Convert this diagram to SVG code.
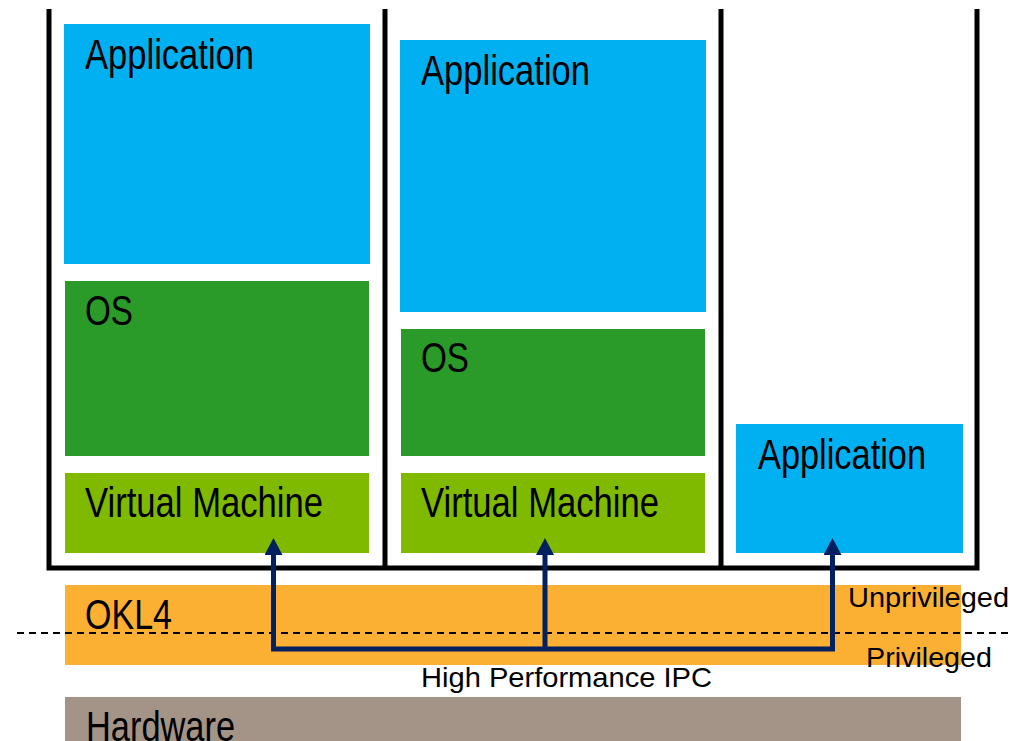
<svg xmlns="http://www.w3.org/2000/svg" width="1009" height="741" viewBox="0 0 1009 741">
<style>
.app{fill:#00B0F0}
.os{fill:#2A9A28}
.vm{fill:#7FBA00}
.lbl{font-family:"Liberation Sans Narrow","Liberation Sans",Arial,sans-serif;font-size:42px;fill:#000}
.sm{font-family:"Liberation Sans",Arial,sans-serif;font-size:28px;fill:#000}
.frame{fill:none;stroke:#000;stroke-width:5}
.ipc{fill:none;stroke:#002060;stroke-width:5}
</style>
<defs>
<marker id="ah" markerUnits="userSpaceOnUse" markerWidth="17" markerHeight="18" refX="0" refY="9" orient="auto" viewBox="0 0 17 18">
<path d="M0,0 L17,9 L0,18 Z" fill="#002060"/>
</marker>
</defs>
<rect width="1009" height="741" fill="#fff"/>
<g id="frame">
<path class="frame" d="M49,9 V568 H977 V9"/>
<path class="frame" d="M385,9 V568 M721,9 V568"/>
</g>
<g id="app1"><rect class="app" x="64" y="24" width="306" height="240"/><text class="lbl" x="85" y="69" textLength="169" lengthAdjust="spacingAndGlyphs">Application</text></g>
<g id="os1"><rect class="os" x="65" y="281" width="304" height="175"/><text class="lbl" x="85" y="325" textLength="48" lengthAdjust="spacingAndGlyphs">OS</text></g>
<g id="vm1"><rect class="vm" x="65" y="473" width="304" height="80"/><text class="lbl" x="85" y="517" textLength="238" lengthAdjust="spacingAndGlyphs">Virtual Machine</text></g>
<g id="app2"><rect class="app" x="400" y="40" width="306" height="272"/><text class="lbl" x="421" y="85" textLength="169" lengthAdjust="spacingAndGlyphs">Application</text></g>
<g id="os2"><rect class="os" x="401" y="329" width="304" height="127"/><text class="lbl" x="421" y="372" textLength="48" lengthAdjust="spacingAndGlyphs">OS</text></g>
<g id="vm2"><rect class="vm" x="401" y="473" width="304" height="80"/><text class="lbl" x="421" y="517" textLength="238" lengthAdjust="spacingAndGlyphs">Virtual Machine</text></g>
<g id="app3"><rect class="app" x="736" y="424" width="227" height="129"/><text class="lbl" x="758" y="469" textLength="168" lengthAdjust="spacingAndGlyphs">Application</text></g>
<g id="okl4"><rect x="65" y="585" width="896" height="80" fill="#FBB034"/><text class="lbl" x="85" y="629" textLength="87" lengthAdjust="spacingAndGlyphs">OKL4</text></g>
<g id="hardware"><rect x="65" y="697" width="896" height="50" fill="#A39487"/><text class="lbl" x="86" y="741" textLength="149" lengthAdjust="spacingAndGlyphs">Hardware</text></g>
<g id="privilege">
<line x1="17" y1="633" x2="1009" y2="633" stroke="#000" stroke-width="2" stroke-dasharray="7,5"/>
<text class="sm" x="848" y="607" textLength="161" lengthAdjust="spacingAndGlyphs">Unprivileged</text>
<text class="sm" x="866" y="667" textLength="126" lengthAdjust="spacingAndGlyphs">Privileged</text>
</g>
<g id="connectors">
<path class="ipc" d="M271,649 H835"/>
<path class="ipc" d="M273.5,651 V555" marker-end="url(#ah)"/>
<path class="ipc" d="M545,651 V555" marker-end="url(#ah)"/>
<path class="ipc" d="M832.5,651 V555" marker-end="url(#ah)"/>
<text class="sm" x="421" y="687" textLength="291" lengthAdjust="spacingAndGlyphs">High Performance IPC</text>
</g>
</svg>
